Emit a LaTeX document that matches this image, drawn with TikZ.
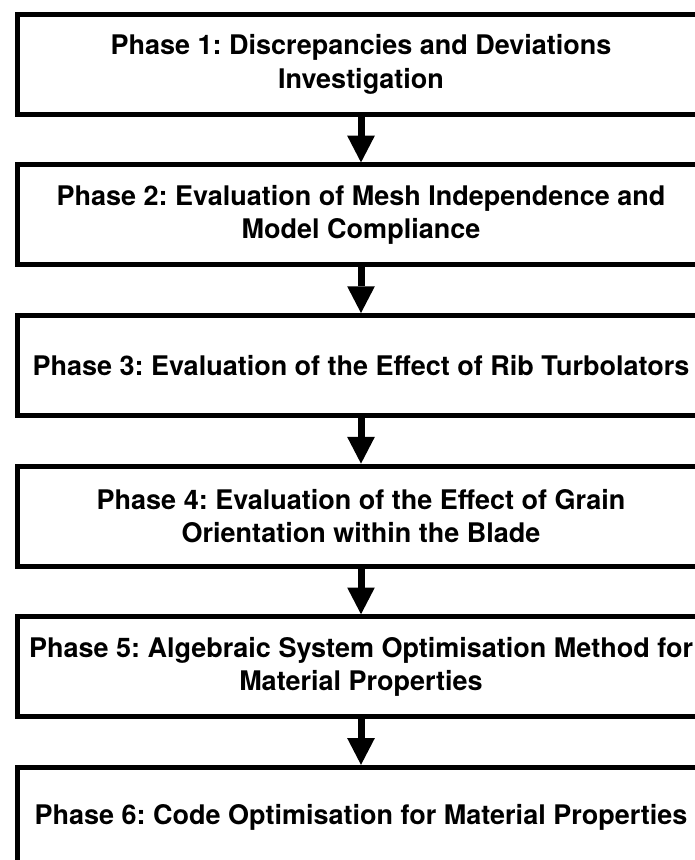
\documentclass[tikz,border=0pt]{standalone}
\usepackage{fontspec}
\setmainfont{TeX Gyre Heros}
\frenchspacing
\usetikzlibrary{arrows.meta}
\tikzset{phase/.style={draw, line width=5pt, minimum width=687pt, minimum height=100pt,
    inner sep=0pt, align=center, font=\fontsize{27}{33.5}\selectfont\bfseries}}
\begin{document}
\begin{tikzpicture}[x=1pt,y=1pt]
        \useasboundingbox (0,0) rectangle (695,-860);

        \node[phase] (p1) at (361, -64.3) {Phase 1: Discrepancies and Deviations\\Investigation};
        \node[phase] (p2) at (361, -214.9) {Phase 2: Evaluation of Mesh Independence and\\Model Compliance};
        \node[phase] (p3) at (361, -365.5) {Phase 3: Evaluation of the Effect of Rib Turbolators};
        \node[phase] (p4) at (361, -516.1) {Phase 4: Evaluation of the Effect of Grain\\Orientation within the Blade};
        \node[phase] (p5) at (361, -666.7) {Phase 5: Algebraic System Optimisation Method for\\Material Properties};
        \node[phase] (p6) at (361, -817.3) {Phase 6: Code Optimisation for Material Properties};

        \begin{scope}[every path/.style={line width=7pt, -{Triangle[width=27.7pt, length=26.7pt, line width=0pt]}}]
        \draw (p1) -- (p2);
        \draw (p2) -- (p3);
        \draw (p3) -- (p4);
        \draw (p4) -- (p5);
        \draw (p5) -- (p6);
        \end{scope}

\end{tikzpicture}
\end{document}
